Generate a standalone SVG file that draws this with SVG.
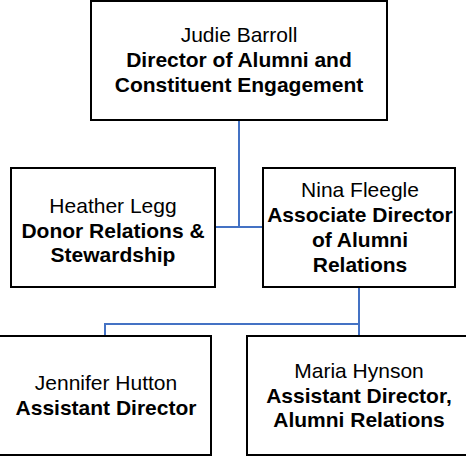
<svg xmlns="http://www.w3.org/2000/svg" width="466" height="458" viewBox="0 0 466 458">
<style>
.box{fill:#fff;stroke:#000;stroke-width:2}
.conn{fill:none;stroke:#4472C4;stroke-width:2}
text{font-family:"Liberation Sans",Arial,sans-serif;font-size:21px;text-anchor:middle;fill:#000}
.b{font-weight:bold}
</style>
<rect width="466" height="458" fill="#fff"/>
<g id="connectors">
<path class="conn" d="M239 120V227M215 227H263"/>
<path class="conn" d="M359 287V324H105V336M359 324V336"/>
</g>
<g id="judie">
<rect class="box" x="91" y="1" width="296" height="119"/>
<text x="239" y="41.5">Judie Barroll</text>
<text class="b" x="239" y="67">Director of Alumni and</text>
<text class="b" x="239" y="92">Constituent Engagement</text>
</g>
<g id="heather">
<rect class="box" x="11" y="168" width="204" height="119"/>
<text x="113" y="213">Heather Legg</text>
<text class="b" x="113" y="238">Donor Relations &amp;</text>
<text class="b" x="113" y="262">Stewardship</text>
</g>
<g id="nina">
<rect class="box" x="263" y="168" width="192" height="119"/>
<text x="360" y="197">Nina Fleegle</text>
<text class="b" x="360" y="222">Associate Director</text>
<text class="b" x="360" y="247">of Alumni</text>
<text class="b" x="360" y="272">Relations</text>
</g>
<g id="jennifer">
<rect class="box" x="-10" y="336" width="221" height="119"/>
<text x="106" y="390">Jennifer Hutton</text>
<text class="b" x="106" y="415">Assistant Director</text>
</g>
<g id="maria">
<rect class="box" x="247" y="336" width="230" height="119"/>
<text x="359" y="378">Maria Hynson</text>
<text class="b" x="359" y="403">Assistant Director,</text>
<text class="b" x="359" y="427">Alumni Relations</text>
</g>
</svg>
